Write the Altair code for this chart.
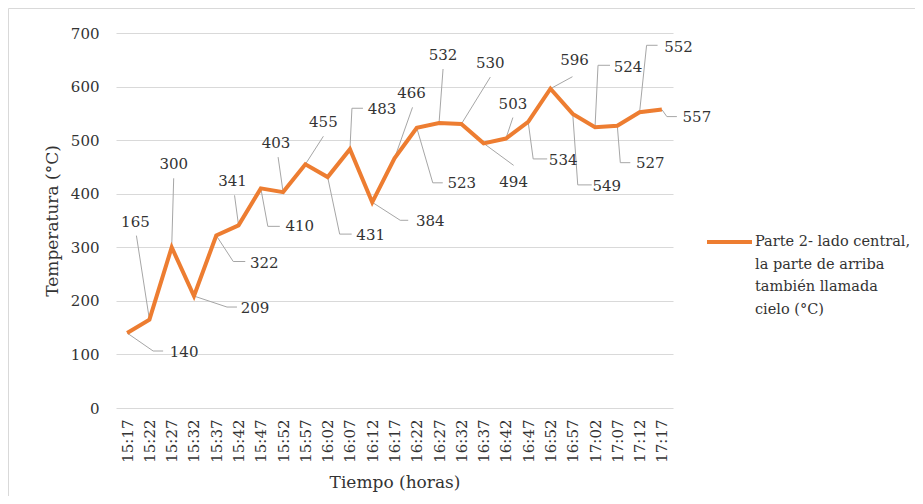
import altair as alt
import pandas as pd

# ---- data ----
times = ["15:17", "15:22", "15:27", "15:32", "15:37", "15:42", "15:47", "15:52",
         "15:57", "16:02", "16:07", "16:12", "16:17", "16:22", "16:27", "16:32",
         "16:37", "16:42", "16:47", "16:52", "16:57", "17:02", "17:07", "17:12",
         "17:17"]
temps = [140, 165, 300, 209, 322, 341, 410, 403, 455, 431, 483, 384, 466, 523,
         532, 530, 494, 503, 534, 596, 549, 524, 527, 552, 557]
series_name = ["Parte 2- lado central,", "la parte de arriba",
               "también llamada", "cielo (°C)"]
x_title = "Tiempo (horas)"
y_title = "Temperatura (°C)"

# ---- label placement style (pixel offsets from each point) ----
label_off = [(57, 19), (-14, -98), (2, -83), (61, 12), (48, 27), (-6, -44),
             (39, 38), (-7, -49), (18, -42), (43, 58), (32, -40), (58, 19),
             (17, -65), (45, 55), (4, -68), (29, -61), (30, 39), (7, -35),
             (35, 38), (24, -29), (34, 72), (33, -60), (33, 37), (39, -65),
             (35, 7)]
leader_elbow = [(26, 18), None, None, (33, 11), (17, 26), None,
                (7, 38), None, None, (12, 57), (2, -41), (28, 18),
                None, (16, 55), None, None, None, None,
                (5, 37), None, (5, 71), (3, -62), (3, 37), (7, -67),
                (5, 7)]
leader_end = [(36, 18), (-13, -84), (2, -69), (43, 11), (29, 26), (-4, -30),
              (19, 38), (-5, -35), (18, -28), (24, 57), (13, -41), (36, 18),
              (18, -51), (26, 55), (4, -54), (29, -47), (30, 22), (7, -21),
              (19, 37), (22, -12), (19, 71), (15, -62), (13, 37), (18, -67),
              (15, 7)]

W, H = 557, 375
N = len(times)
PPX = W / N
PPY = H / 700.0

ORANGE = "#ED7D31"
GRID = "#d9d9d9"
TXT = "#333333"
FONT = "DejaVu Serif"

main_df = pd.DataFrame({"idx": list(range(N)), "temp": temps, "hora": times})

lbl_rows = []
lead_rows = []
for i, v in enumerate(temps):
    dx, dy = label_off[i]
    lbl_rows.append({"idx": i + dx / PPX, "temp": v - dy / PPY, "txt": str(v)})
    pts = [(0, 0)]
    if leader_elbow[i] is not None:
        pts.append(leader_elbow[i])
    pts.append(leader_end[i])
    for k, (ex, ey) in enumerate(pts):
        lead_rows.append({"g": i, "k": k, "idx": i + ex / PPX, "temp": v - ey / PPY})
lbl_df = pd.DataFrame(lbl_rows)
lead_df = pd.DataFrame(lead_rows)

label_expr = "[" + ",".join("'%s'" % t for t in times) + "][datum.value]"

X = alt.X("idx:Q",
          scale=alt.Scale(domain=[-0.5, N - 0.5], nice=False, zero=False),
          axis=alt.Axis(values=list(range(N)), labelExpr=label_expr,
                        labelAngle=-90, labelPadding=11, ticks=False,
                        domain=False, grid=False, title=x_title,
                        titleX=W / 2, titleY=74, titleBaseline="middle",
                        labelFontSize=15, titleFontSize=17,
                        labelFont=FONT, titleFont=FONT))
Y = alt.Y("temp:Q",
          scale=alt.Scale(domain=[0, 700], nice=False),
          axis=alt.Axis(values=list(range(0, 701, 100)), ticks=False,
                        domain=False, grid=True, gridColor=GRID,
                        labelPadding=17, title=y_title, titleX=-64,
                        titleY=H / 2, titleBaseline="middle",
                        labelFontSize=15, titleFontSize=17,
                        labelFont=FONT, titleFont=FONT))

leaders = alt.Chart(lead_df).mark_line(color="#a6a6a6", strokeWidth=1).encode(
    x=X, y=Y, detail="g:N", order="k:Q")

line = alt.Chart(main_df).mark_line(color=ORANGE, strokeWidth=4,
                                    strokeJoin="miter").encode(x=X, y=Y)

labels = alt.Chart(lbl_df).mark_text(font=FONT, fontSize=15, color=TXT,
                                     align="center", baseline="middle").encode(
    x=X, y=Y, text="txt:N")

leg_sym = alt.Chart(pd.DataFrame({"a": [0]})).mark_rule(
    color=ORANGE, strokeWidth=4).encode(
    x=alt.value(591), x2=alt.value(636), y=alt.value(209))
leg_df = pd.DataFrame({"line": series_name,
                       "py": [209 + 22.7 * k for k in range(len(series_name))]})
leg_txt = alt.Chart(leg_df).mark_text(font=FONT, fontSize=14.5, color=TXT,
                                      align="left", baseline="middle").encode(
    x=alt.value(639), y=alt.Y("py:Q", scale=None), text="line:N")

frame_left = alt.Chart(pd.DataFrame({"a": [0]})).mark_rule(
    color=GRID, strokeWidth=1).encode(
    x=alt.value(-107.5), y=alt.value(-24.5), y2=alt.value(H + 120))
frame_top = alt.Chart(pd.DataFrame({"a": [0]})).mark_rule(
    color=GRID, strokeWidth=1).encode(
    x=alt.value(-107.5), x2=alt.value(W + 260), y=alt.value(-24.5))

chart = alt.layer(frame_left, frame_top, leaders, line, labels, leg_sym, leg_txt).properties(
    width=W, height=H,
    autosize=alt.AutoSizeParams(type="none"),
    padding={"left": 108, "top": 25, "right": 242, "bottom": 88},
    background="white",
).configure_view(stroke=None).configure_axis(
    labelColor=TXT, titleColor=TXT, titleFontWeight="normal",
)

chart.save("out.html", embed_options={"renderer": "svg", "actions": False})
